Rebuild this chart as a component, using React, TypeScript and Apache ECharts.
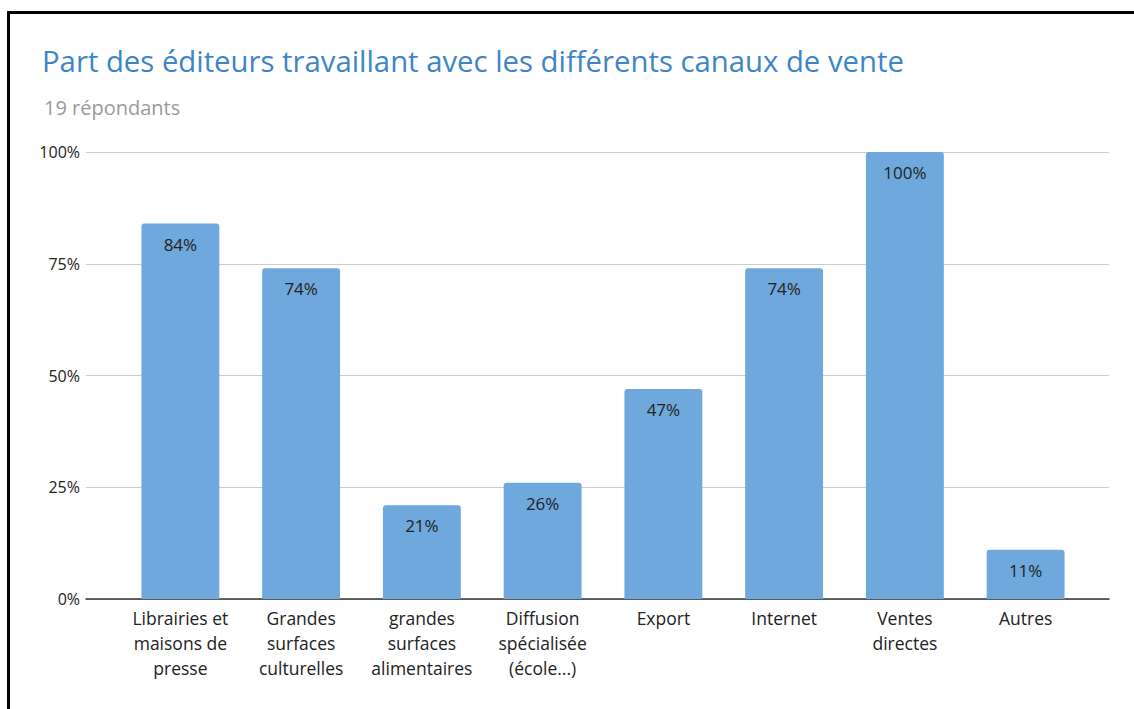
import React, { useEffect, useRef } from "react";
import * as echarts from "echarts";

const categories = [
  "Librairies et\nmaisons de\npresse",
  "Grandes\nsurfaces\nculturelles",
  "grandes\nsurfaces\nalimentaires",
  "Diffusion\nspécialisée\n(école...)",
  "Export",
  "Internet",
  "Ventes\ndirectes",
  "Autres",
];
const values = [84, 74, 21, 26, 47, 74, 100, 11];
const yTicks = [0, 25, 50, 75, 100];

const FONT = "'Open Sans', 'Noto Sans', sans-serif";

export default function App() {
  const ref = useRef<HTMLDivElement>(null);
  useEffect(() => {
    if (!ref.current) return;
    const chart = echarts.init(ref.current, null, { renderer: "svg" });
    const yMax = yTicks[yTicks.length - 1];
    const interval = yTicks[1] - yTicks[0];
    chart.setOption({
      animation: false,
      backgroundColor: "transparent",
      title: [
        {
          text: "Part des éditeurs travaillant avec les différents canaux de vente",
          left: 37,
          top: 41,
          textStyle: { fontFamily: FONT, fontSize: 29.3, fontWeight: "normal", color: "#3d85c6" },
        },
        {
          text: "19 répondants",
          left: 39,
          top: 92,
          textStyle: { fontFamily: FONT, fontSize: 20, fontWeight: "normal", color: "#9a9a9a" },
        },
      ],
      grid: [
        { left: 86, right: 25, top: 152, bottom: 110 },
        { left: 120, right: 48, top: 152, bottom: 110 },
      ],
      xAxis: [
        {
          gridIndex: 0,
          type: "category",
          data: [""],
          axisLine: { show: true, lineStyle: { color: "#333", width: 1.5 } },
          axisTick: { show: false },
          axisLabel: { show: false },
        },
        {
          gridIndex: 1,
          type: "category",
          data: categories,
          axisLine: { show: false },
          axisTick: { show: false },
          axisLabel: {
            margin: 6,
            fontFamily: FONT,
            fontSize: 17.5,
            lineHeight: 25,
            color: "#222",
            interval: 0,
          },
        },
      ],
      yAxis: [
        {
          gridIndex: 0,
          type: "value",
          min: 0,
          max: yMax,
          interval,
          axisLine: { show: false },
          axisTick: { show: false },
          axisLabel: {
            margin: 6,
            fontFamily: FONT,
            fontSize: 16,
            color: "#222",
            formatter: (v: number) => `${v}%`,
          },
          splitLine: { lineStyle: { color: "#cccccc", width: 1 } },
        },
        {
          gridIndex: 1,
          type: "value",
          min: 0,
          max: yMax,
          interval,
          show: false,
          splitLine: { show: false },
        },
      ],
      series: [
        {
          type: "bar",
          xAxisIndex: 1,
          yAxisIndex: 1,
          data: values,
          barWidth: "64.5%",
          itemStyle: { color: "#6fa8dc", borderRadius: [3, 3, 0, 0] },
          label: {
            show: true,
            position: "insideTop",
            distance: 12,
            fontFamily: FONT,
            fontSize: 17,
            color: "#222",
            formatter: (p: any) => `${p.value}%`,
          },
          z: 3,
        },
      ],
    });
    return () => chart.dispose();
  }, []);

  return (
    <div style={{ position: "absolute", left: 0, top: 0, width: 1134, height: 709, background: "#fff", overflow: "hidden" }}>
      <div
        style={{
          position: "absolute",
          left: 7,
          top: 11,
          right: 0,
          bottom: 0,
          borderTop: "3px solid #000",
          borderLeft: "3px solid #000",
        }}
      />
      <div ref={ref} style={{ position: "absolute", left: 0, top: 0, width: 1134, height: 709 }} />
    </div>
  );
}
